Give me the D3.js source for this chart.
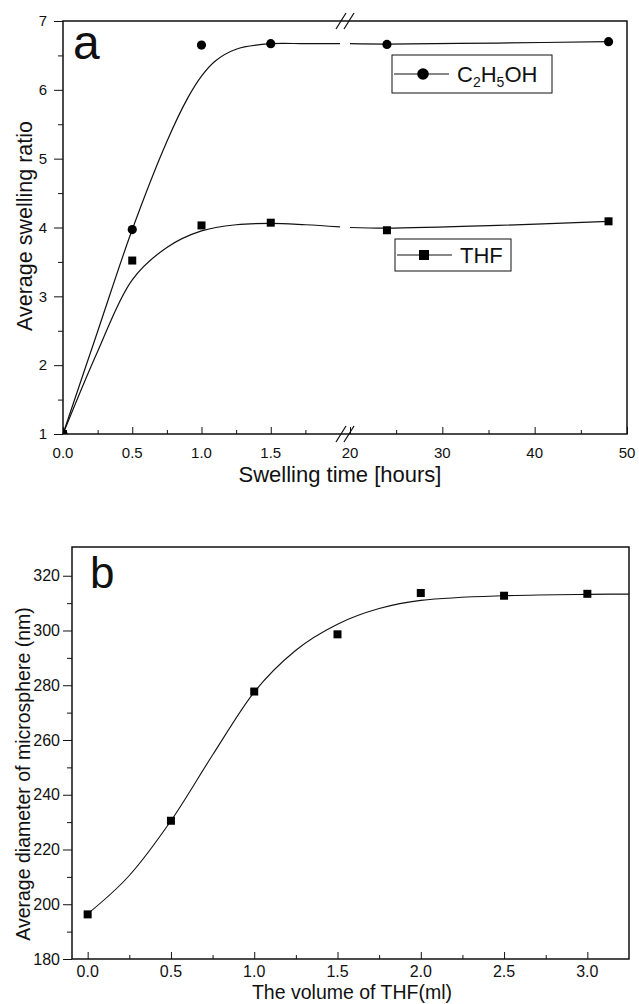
<!DOCTYPE html>
<html>
<head>
<meta charset="utf-8">
<script src="https://cdn.jsdelivr.net/npm/d3@7/dist/d3.min.js"></script>
<style>
  body { margin: 0; background: #fff; }
  svg { display: block; font-family: "Liberation Sans", Arial, sans-serif; }
</style>
</head>
<body>
<svg id="chart" width="639" height="1004"></svg>
<script>
// ---- Panel a: swelling ratio vs time (broken x axis) ----
const timeHours = [0, 0.5, 1.0, 1.5, 24, 48];
const ethanolRatio = [1, 3.97, 6.65, 6.67, 6.66, 6.70];
const thfRatio = [1, 3.52, 4.03, 4.07, 3.96, 4.09];

// fitted curves (hours, ratio)
const ethanolFit = [[0, 1], [0.25, 2.49], [0.5, 3.97], [0.75, 5.25], [0.9, 5.88],
  [1.0, 6.2], [1.1, 6.42], [1.25, 6.59], [1.5, 6.67], [1.75, 6.67], [2.0, 6.67],
  [20, 6.67], [24, 6.665], [36, 6.68], [48, 6.70]];
const thfFit = [[0, 1], [0.25, 2.2], [0.5, 3.24], [0.75, 3.71], [1.0, 3.95], [1.25, 4.04],
  [1.5, 4.06], [1.75, 4.04], [2.0, 4.01],
  [20, 4.0], [24, 3.99], [36, 4.03], [48, 4.09]];

const aYTicks = [1, 2, 3, 4, 5, 6, 7];
const aXTicksLow = [0, 0.5, 1.0, 1.5];
const aXTicksHigh = [20, 30, 40, 50];

// ---- Panel b: diameter vs THF volume ----
const thfVolume = [0, 0.5, 1.0, 1.5, 2.0, 2.5, 3.0];
const diameterNm = [196.3, 230.5, 277.7, 298.6, 313.7, 312.7, 313.4];
const diameterFit = [[0, 196.5], [0.25, 210.5], [0.5, 230.5], [0.75, 254.5], [1.0, 277.5],
  [1.25, 292.8], [1.5, 302.3], [1.75, 308], [2.0, 311], [2.5, 312.7], [3.0, 313.2], [3.25, 313.3]];
const bYTicks = [180, 200, 220, 240, 260, 280, 300, 320];
const bXTicks = [0, 0.5, 1.0, 1.5, 2.0, 2.5, 3.0];

const svg = d3.select("#chart");

// ================= Panel a =================
const a = { left: 63, right: 627, top: 21, bottom: 434, breakAt: 340, resume: 350 };

const xLow = d3.scaleLinear().domain([0, 2]).range([a.left, a.breakAt]);
const xHigh = d3.scaleLinear().domain([20, 50]).range([a.resume, a.right]);
const xA = t => (t <= 2 ? xLow(t) : xHigh(t));
const yA = d3.scaleLinear().domain([1, 7]).range([a.bottom, a.top]);

const gA = svg.append("g");

svg.append("clipPath").attr("id", "clipA")
  .append("rect").attr("x", a.left).attr("y", a.top)
  .attr("width", a.right - a.left).attr("height", a.bottom - a.top);

// y axis (ticks outward)
gA.append("g").attr("transform", `translate(${a.left},0)`)
  .call(d3.axisLeft(yA).tickValues(aYTicks).tickSize(9).tickFormat(d3.format("d")))
  .call(g => g.select(".domain").remove())
  .call(g => g.selectAll("text").attr("font-size", 15).attr("fill", "#111").attr("dx", -4));
gA.append("g").attr("transform", `translate(${a.left},0)`)
  .call(d3.axisLeft(yA).tickValues(d3.range(1.5, 7, 1)).tickSize(5).tickFormat(""))
  .call(g => g.select(".domain").remove());

// x axis (ticks inward)
function xAxisA(scale, major, minor, fmt) {
  gA.append("g").attr("transform", `translate(0,${a.bottom})`)
    .call(d3.axisTop(scale).tickValues(major).tickSize(7).tickFormat(""))
    .call(g => g.select(".domain").remove());
  gA.append("g").attr("transform", `translate(0,${a.bottom})`)
    .call(d3.axisTop(scale).tickValues(minor).tickSize(4).tickFormat(""))
    .call(g => g.select(".domain").remove());
  gA.append("g").selectAll("text").data(major).join("text")
    .attr("x", d => scale(d)).attr("y", a.bottom + 24)
    .attr("text-anchor", "middle").attr("font-size", 15).attr("fill", "#111")
    .text(fmt);
}
xAxisA(xLow, aXTicksLow, [0.25, 0.75, 1.25, 1.75], d3.format(".1f"));
xAxisA(xHigh, aXTicksHigh, [25, 35, 45], d3.format("d"));

// frame
gA.append("rect").attr("x", a.left).attr("y", a.top)
  .attr("width", a.right - a.left).attr("height", a.bottom - a.top)
  .attr("fill", "none").attr("stroke", "#111").attr("stroke-width", 1.5);

// break marks
function breakMark(g, cx, cy) {
  [-4, 4].forEach(off => {
    g.append("line")
      .attr("x1", cx + off - 5).attr("y1", cy + 8)
      .attr("x2", cx + off + 5).attr("y2", cy - 8)
      .attr("stroke", "#111").attr("stroke-width", 1.3);
  });
}
breakMark(gA, 345, a.top);
breakMark(gA, 345, a.bottom);

// fitted curves, drawn per axis segment
const lineA = d3.line().x(d => xA(d[0])).y(d => yA(d[1])).curve(d3.curveCatmullRom.alpha(0.5));
[ethanolFit, thfFit].forEach(fit => {
  [fit.filter(d => d[0] <= 2), fit.filter(d => d[0] >= 20)].forEach(seg => {
    gA.append("path").datum(seg).attr("d", lineA)
      .attr("fill", "none").attr("stroke", "#111").attr("stroke-width", 1.2);
  });
});

// markers
const markA = gA.append("g").attr("clip-path", "url(#clipA)");
markA.selectAll(".eth").data(timeHours.map((t, i) => [t, ethanolRatio[i]])).join("circle")
  .attr("cx", d => xA(d[0])).attr("cy", d => yA(d[1])).attr("r", 4.6).attr("fill", "#000");
markA.selectAll(".thf").data(timeHours.map((t, i) => [t, thfRatio[i]])).join("rect")
  .attr("x", d => xA(d[0]) - 4).attr("y", d => yA(d[1]) - 4)
  .attr("width", 8).attr("height", 8).attr("fill", "#000");

// legends
function legendBox(x, y, w, h, marker, label) {
  const g = gA.append("g").attr("transform", `translate(${x},${y})`);
  g.append("rect").attr("width", w).attr("height", h)
    .attr("fill", "#fff").attr("stroke", "#111").attr("stroke-width", 1);
  g.append("line").attr("x1", 2).attr("x2", 57).attr("y1", h / 2).attr("y2", h / 2)
    .attr("stroke", "#111").attr("stroke-width", 1.2);
  if (marker === "circle") {
    g.append("circle").attr("cx", 31).attr("cy", h / 2).attr("r", 5.8).attr("fill", "#000");
  } else {
    g.append("rect").attr("x", 24).attr("y", h / 2 - 5).attr("width", 10).attr("height", 10).attr("fill", "#000");
  }
  const t = g.append("text").attr("x", 65).attr("y", h / 2 + 8)
    .attr("font-size", 22).attr("fill", "#111");
  label.forEach(part => {
    const s = t.append("tspan").text(part.text);
    if (part.sub) s.attr("font-size", 14).attr("dy", 5);
    else if (part.after) s.attr("dy", -5);
  });
}
legendBox(392, 55, 160, 38, "circle",
  [{ text: "C" }, { text: "2", sub: true }, { text: "H", after: true }, { text: "5", sub: true }, { text: "OH", after: true }]);
legendBox(395, 239, 116, 32, "square", [{ text: "THF" }]);

// panel letter + titles
gA.append("text").attr("x", 73).attr("y", 59).attr("font-size", 48).attr("fill", "#111").text("a");
gA.append("text").attr("x", 340).attr("y", a.bottom + 48)
  .attr("text-anchor", "middle").attr("font-size", 22).attr("fill", "#111")
  .text("Swelling time [hours]");
gA.append("text")
  .attr("transform", `translate(32,226) rotate(-90)`)
  .attr("text-anchor", "middle").attr("font-size", 21.5).attr("fill", "#111")
  .text("Average swelling ratio");

// ================= Panel b =================
const b = { left: 72, right: 629, top: 547, bottom: 959 };
const xB = d3.scaleLinear().domain([-0.094, 3.25]).range([b.left, b.right]);
const yB = d3.scaleLinear().domain([180, 330.5]).range([b.bottom, b.top]);
const gB = svg.append("g");

svg.append("clipPath").attr("id", "clipB")
  .append("rect").attr("x", b.left).attr("y", b.top)
  .attr("width", b.right - b.left).attr("height", b.bottom - b.top);

gB.append("g").attr("transform", `translate(${b.left},0)`)
  .call(d3.axisLeft(yB).tickValues(bYTicks).tickSize(9).tickFormat(d3.format("d")))
  .call(g => g.select(".domain").remove())
  .call(g => g.selectAll("text").attr("font-size", 16).attr("fill", "#111").attr("dx", 0));
gB.append("g").attr("transform", `translate(${b.left},0)`)
  .call(d3.axisLeft(yB).tickValues(d3.range(190, 330, 20)).tickSize(5).tickFormat(""))
  .call(g => g.select(".domain").remove());

gB.append("g").attr("transform", `translate(0,${b.bottom})`)
  .call(d3.axisTop(xB).tickValues(bXTicks).tickSize(7).tickFormat(""))
  .call(g => g.select(".domain").remove());
gB.append("g").attr("transform", `translate(0,${b.bottom})`)
  .call(d3.axisTop(xB).tickValues(d3.range(0.25, 3.25, 0.5)).tickSize(4).tickFormat(""))
  .call(g => g.select(".domain").remove());
gB.append("g").selectAll("text").data(bXTicks).join("text")
  .attr("x", d => xB(d)).attr("y", b.bottom + 18)
  .attr("text-anchor", "middle").attr("font-size", 16).attr("fill", "#111")
  .text(d3.format(".1f"));

gB.append("rect").attr("x", b.left).attr("y", b.top)
  .attr("width", b.right - b.left).attr("height", b.bottom - b.top)
  .attr("fill", "none").attr("stroke", "#111").attr("stroke-width", 1.5);

const lineB = d3.line().x(d => xB(d[0])).y(d => yB(d[1])).curve(d3.curveMonotoneX);
gB.append("path").datum(diameterFit).attr("d", lineB)
  .attr("fill", "none").attr("stroke", "#111").attr("stroke-width", 1.1);

gB.append("g").attr("clip-path", "url(#clipB)")
  .selectAll("rect").data(thfVolume.map((v, i) => [v, diameterNm[i]])).join("rect")
  .attr("x", d => xB(d[0]) - 4).attr("y", d => yB(d[1]) - 4)
  .attr("width", 8).attr("height", 8).attr("fill", "#000");

gB.append("text").attr("x", 90).attr("y", 588).attr("font-size", 44).attr("fill", "#111").text("b");
gB.append("text").attr("x", 352).attr("y", 999)
  .attr("text-anchor", "middle").attr("font-size", 19.5).attr("fill", "#111")
  .text("The volume of THF(ml)");
gB.append("text")
  .attr("transform", `translate(30,774) rotate(-90)`)
  .attr("text-anchor", "middle").attr("font-size", 19.5).attr("fill", "#111")
  .text("Average diameter of microsphere (nm)");

svg.selectAll(".tick line").attr("stroke", "#111");
</script>
</body>
</html>
